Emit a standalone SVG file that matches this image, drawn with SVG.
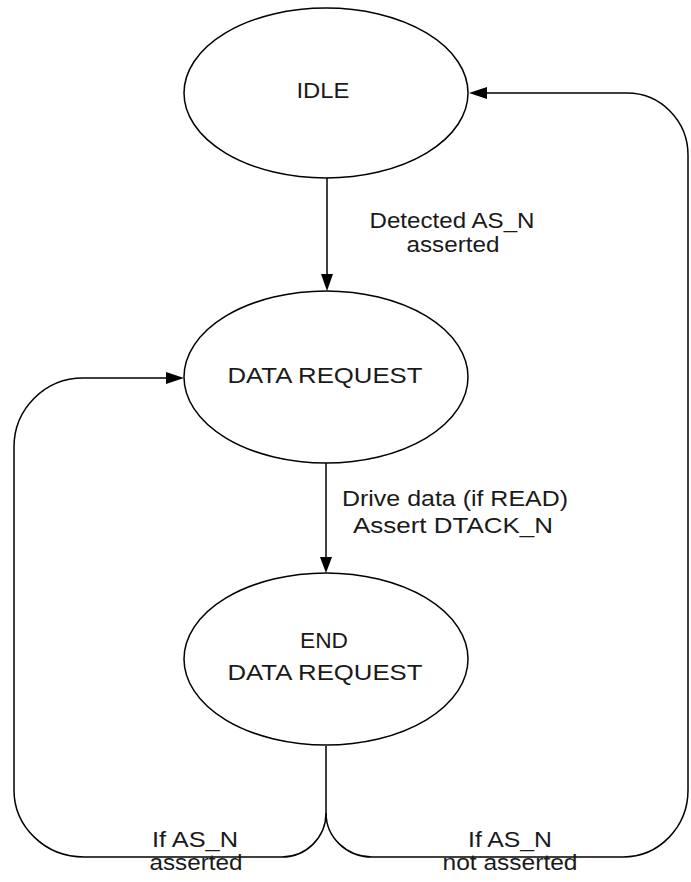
<svg xmlns="http://www.w3.org/2000/svg" width="691" height="882" viewBox="0 0 691 882">
<style>
.st{fill:#fff;stroke:#000;stroke-width:1.5}
.cn{fill:none;stroke:#000;stroke-width:1.5}
.ah{fill:#000;stroke:none}
text{font-family:"Liberation Sans",Arial,sans-serif;font-size:22px;fill:#1a1a1a;text-anchor:middle}
</style>
<rect width="691" height="882" fill="#fff"/>
<g id="connectors">
<line class="cn" x1="327" y1="178" x2="327" y2="276"/>
<polygon class="ah" points="321,274 333,274 327,291"/>
<line class="cn" x1="326" y1="463" x2="326" y2="559"/>
<polygon class="ah" points="320,557 332,557 326,573"/>
<path class="cn" d="M326,746 L326,813 A44,44 0 0 1 282,857 L84,857 A70,67 0 0 1 14,790 L14,447 A69,69 0 0 1 83,378 L168,378"/>
<polygon class="ah" points="166,372 166,384 184,378"/>
<path class="cn" d="M326,813 A46,44 0 0 0 372,857 L623,857 A65,67 0 0 0 688,790 L688,155 A61,62 0 0 0 627,93 L485,93"/>
<polygon class="ah" points="487,87 487,99 469,93"/>
</g>
<g id="idle">
<ellipse class="st" cx="326" cy="93" rx="142" ry="85"/>
<text x="323" y="98" textLength="53" lengthAdjust="spacingAndGlyphs">IDLE</text>
</g>
<g id="data-request">
<ellipse class="st" cx="326" cy="377" rx="142" ry="86"/>
<text x="325" y="383" textLength="195" lengthAdjust="spacingAndGlyphs">DATA REQUEST</text>
</g>
<g id="end-data-request">
<ellipse class="st" cx="326" cy="659" rx="142" ry="86"/>
<text x="324" y="648" textLength="48" lengthAdjust="spacingAndGlyphs">END</text>
<text x="325" y="680" textLength="195" lengthAdjust="spacingAndGlyphs">DATA REQUEST</text>
</g>
<g id="labels">
<text x="452" y="228" textLength="165" lengthAdjust="spacingAndGlyphs">Detected AS_N</text>
<text x="453" y="252" textLength="93" lengthAdjust="spacingAndGlyphs">asserted</text>
<text x="455" y="506" textLength="226" lengthAdjust="spacingAndGlyphs">Drive data (if READ)</text>
<text x="453" y="533" textLength="200" lengthAdjust="spacingAndGlyphs">Assert DTACK_N</text>
<text x="195" y="847" textLength="86" lengthAdjust="spacingAndGlyphs">If AS_N</text>
<text x="196" y="870" textLength="93" lengthAdjust="spacingAndGlyphs">asserted</text>
<text x="510" y="847" textLength="84" lengthAdjust="spacingAndGlyphs">If AS_N</text>
<text x="510" y="870" textLength="135" lengthAdjust="spacingAndGlyphs">not asserted</text>
</g>
</svg>
